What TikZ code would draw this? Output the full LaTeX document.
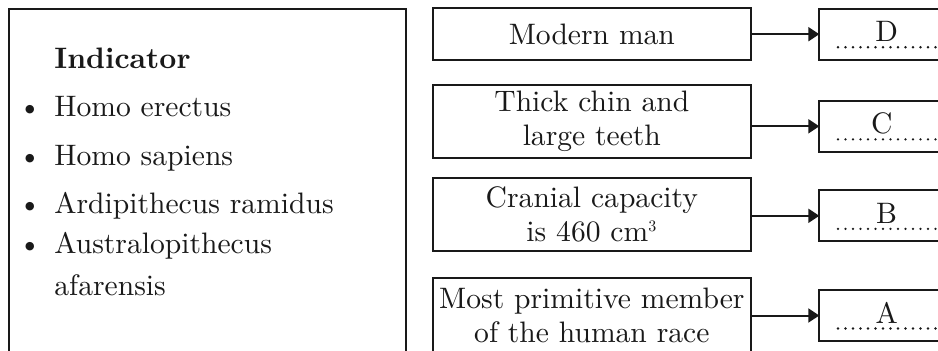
\documentclass[tikz,border=0pt]{standalone}
\usepackage{fontspec}
\setmainfont{lmroman10-regular.otf}[BoldFont=lmroman10-bold.otf]
\usetikzlibrary{arrows.meta}
\newcommand\myfs{\fontsize{14.8}{17}\selectfont}
\begin{document}
\begin{tikzpicture}[x=0.5pt,y=-0.5pt,
  frame/.style={draw=black!90, line width=1pt, inner sep=0pt, outer sep=0pt},
  qbox/.style={frame, minimum width=159.15pt, minimum height=36.6pt, align=center, font=\myfs, text=black!90},
  abox/.style={frame, minimum width=80.35pt, minimum height=25.5pt},
  lbl/.style={anchor=base west, inner sep=0pt, font=\myfs, text=black!90},
  bul/.style={anchor=base, inner sep=0pt, font=\myfs, text=black!90},
  ans/.style={anchor=base, inner sep=0pt, font=\myfs, text=black!90},
  dots/.style={draw=black!90, line width=1.3pt, line cap=round, dash pattern=on 0pt off 3.75pt},
  arr/.style={draw=black!90, line width=1pt, -{Triangle[length=5.5pt,width=7pt]}}
]
\useasboundingbox (0,0) rectangle (938,350);
\clip (0,0) rectangle (938,350);
\fill[white] (0,0) rectangle (938,350);

% left panel
\node[frame, minimum width=198.35pt, minimum height=185.35pt] (ind) at (207.65,194.65) {};
\node[lbl, font=\myfs\bfseries] (t0) at (54,68.3) {Indicator};
\node[bul] (b1) at (30,116.7) {\textbullet};
\node[lbl] (t1) at (54,116.7) {Homo erectus};
\node[bul] (b2) at (30,165) {\textbullet};
\node[lbl] (t2) at (54,165) {Homo sapiens};
\node[bul] (b3) at (30,213.3) {\textbullet};
\node[lbl] (t3) at (54,213.3) {Ardipithecus ramidus};
\node[bul] (b4) at (30,253.3) {\textbullet};
\node[lbl] (t4) at (54,253.3) {Australopithecus};
\node[lbl] (t5) at (54,295) {afarensis};

% question boxes
\node[qbox, minimum height=25.85pt] (q1) at (591.85,34.2) {Modern man};
\node[qbox, minimum height=36.65pt] (q2) at (591.85,121.7) {Thick chin and\\large teeth};
\node[qbox, minimum height=36.2pt] (q3) at (591.85,214.5) {Cranial capacity\\is 460 cm\textsuperscript{\footnotesize 3}};
\node[qbox, minimum height=36.7pt] (q4) at (591.85,315) {Most primitive member\\of the human race};

% answer boxes
\node[abox] (a1) at (899.65,34.2) {};
\node[abox] (a2) at (899.65,126.3) {};
\node[abox] (a3) at (899.65,215.8) {};
\node[abox] (a4) at (899.65,315.5) {};

\node[ans] (l1) at (886.7,41.7) {D};
\node[ans] (l2) at (881.7,133.8) {C};
\node[ans] (l3) at (886.7,223.3) {B};
\node[ans] (l4) at (886.7,323) {A};

\draw[dots] (838,47.2) -- (945,47.2);
\draw[dots] (838,139.3) -- (945,139.3);
\draw[dots] (838,228.8) -- (945,228.8);
\draw[dots] (838,328.5) -- (945,328.5);

% arrows
\draw[arr] (q1.east |- a1.west) -- (a1.west);
\draw[arr] (q2.east |- a2.west) -- (a2.west);
\draw[arr] (q3.east |- a3.west) -- (a3.west);
\draw[arr] (q4.east |- a4.west) -- (a4.west);
\end{tikzpicture}
\end{document}
